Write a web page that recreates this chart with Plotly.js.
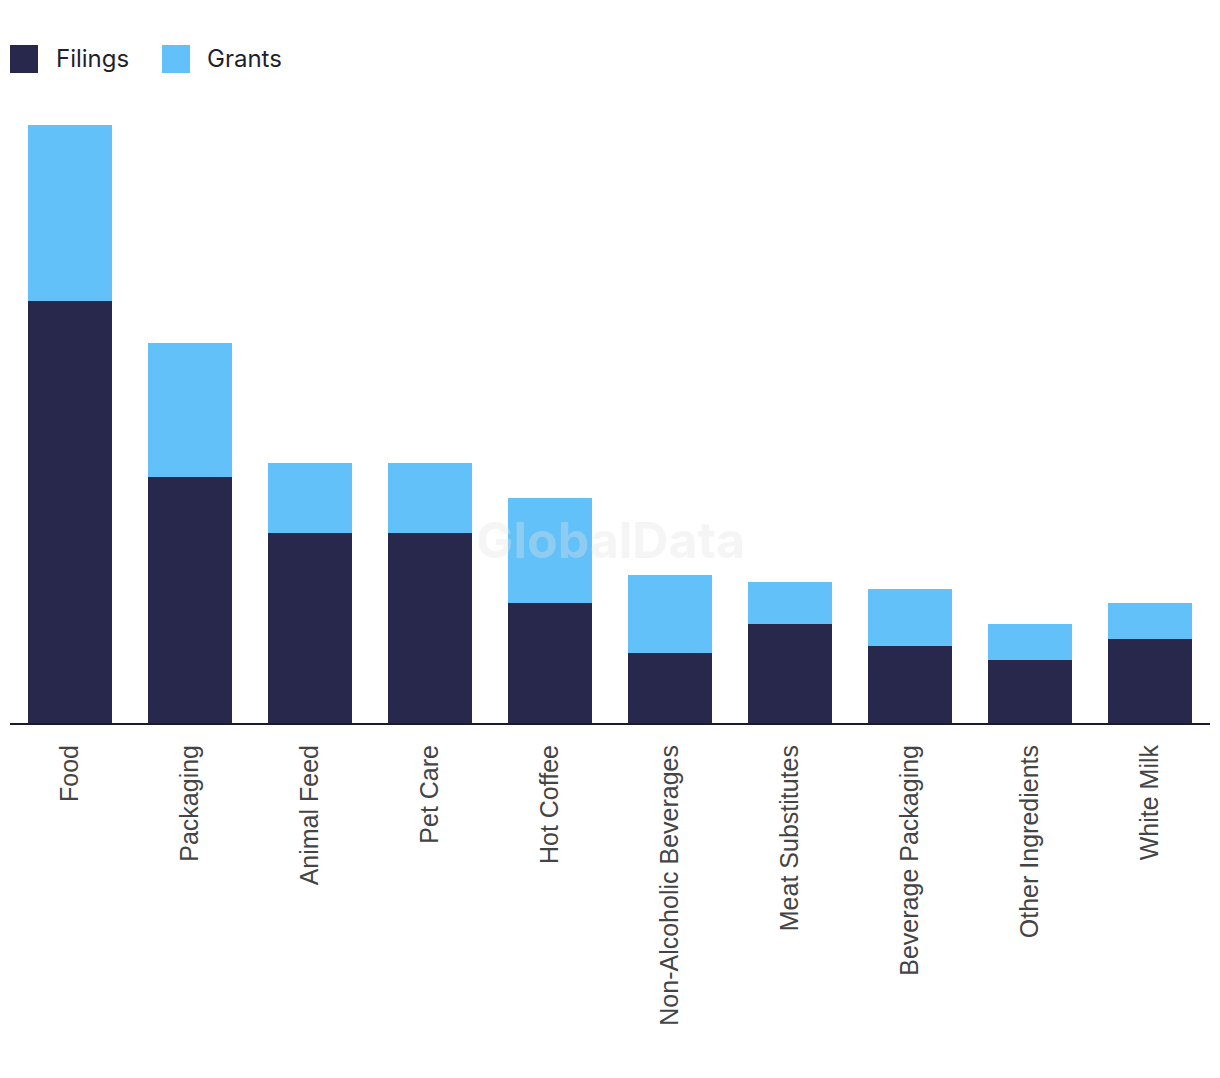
<!DOCTYPE html>
<html>
<head>
<meta charset="utf-8">
<script src="https://cdn.plot.ly/plotly-3.0.1.min.js"></script>
<style>
  html, body { margin: 0; padding: 0; background: #ffffff; }
  #chart { width: 1220px; height: 1078px; }
</style>
</head>
<body>
<div id="chart"></div>
<script>
// Data
const categories = ["Food", "Packaging", "Animal Feed", "Pet Care", "Hot Coffee",
  "Non-Alcoholic Beverages", "Meat Substitutes", "Beverage Packaging", "Other Ingredients", "White Milk"];
const filings = [60, 35, 27, 27, 17, 10, 14, 11, 9, 12];
const grants  = [25, 19, 10, 10, 15, 11, 6, 8, 5, 5];
const seriesNames = ["Filings", "Grants"];
const seriesColors = ["#27284c", "#62c1f9"];

const W = 1220, H = 1078;
const M = { l: 10, r: 10, t: 100, b: 355 };
const plotW = W - M.l - M.r, plotH = H - M.t - M.b;
const px2x = px => (px - M.l) / plotW;
const py2y = py => (H - M.b - py) / plotH;

const traces = [
  { type: "bar", name: seriesNames[0], x: categories, y: filings,
    marker: { color: seriesColors[0], line: { width: 0 } }, hoverinfo: "x+y+name" },
  { type: "bar", name: seriesNames[1], x: categories, y: grants,
    marker: { color: seriesColors[1], line: { width: 0 } }, hoverinfo: "x+y+name" }
];

// custom legend (large square swatches)
const legendItems = [
  { name: seriesNames[0], color: seriesColors[0], sq: 10, tx: 54 },
  { name: seriesNames[1], color: seriesColors[1], sq: 162, tx: 205 }
];
const shapes = legendItems.map(it => ({
  type: "rect", xref: "paper", yref: "paper",
  x0: px2x(it.sq), x1: px2x(it.sq + 28), y0: py2y(73), y1: py2y(45),
  fillcolor: it.color, line: { width: 0 }
}));
const annotations = legendItems.map(it => ({
  xref: "paper", yref: "paper", x: px2x(it.tx), y: py2y(58),
  xanchor: "left", yanchor: "middle", showarrow: false, text: it.name,
  font: { family: "Inter, 'Liberation Sans', sans-serif", size: 24, color: "#1f1f2e" }
}));
annotations.push({
  xref: "paper", yref: "paper", x: px2x(610), y: py2y(540),
  xanchor: "center", yanchor: "middle", showarrow: false, text: "<b>GlobalData</b>",
  font: { family: "Inter, 'Liberation Sans', sans-serif", size: 50, color: "rgba(225,225,225,0.35)" }
});

const layout = {
  width: W, height: H,
  margin: M,
  paper_bgcolor: "#ffffff", plot_bgcolor: "#ffffff",
  barmode: "stack", bargap: 0.3,
  showlegend: false,
  xaxis: {
    type: "category", showline: true, linecolor: "#1a1a2e", linewidth: 2,
    ticks: "", tickangle: -90, showgrid: false, zeroline: false,
    ticklabelstandoff: 10,
    tickfont: { family: "'Liberation Sans', Arial, sans-serif", size: 25, color: "#444444" },
    fixedrange: true
  },
  yaxis: { visible: false, range: [0, plotH / 7.04], showgrid: false, zeroline: false, fixedrange: true },
  shapes: shapes,
  annotations: annotations
};

Plotly.newPlot("chart", traces, layout, { displayModeBar: false, staticPlot: true });
</script>
</body>
</html>
